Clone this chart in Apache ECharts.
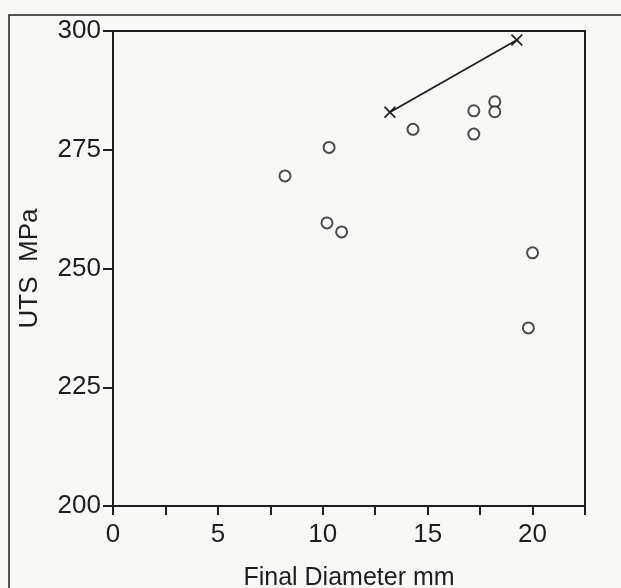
<!DOCTYPE html>
<html>
<head>
<meta charset="utf-8">
<script src="https://cdn.jsdelivr.net/npm/echarts@6/dist/echarts.min.js"></script>
<style>
html, body { margin: 0; padding: 0; background: #f8f8f7; }
#chart1 { width: 621px; height: 588px; }
</style>
</head>
<body>
<div id="chart1"></div>
<script>
var myChart = echarts.init(document.getElementById('chart1'));

// measured points (open circles)
var diameter = [8.2, 10.3, 10.2, 10.9, 14.3, 17.2, 17.2, 18.2, 18.2, 20.0, 19.8];
var uts = [269.5, 275.5, 259.6, 257.7, 279.3, 283.2, 278.3, 285.1, 283.0, 253.3, 237.5];
// line with x markers
var crossDiameter = [13.2, 19.25];
var crossUts = [282.9, 298.1];
var xTicks = [0, 5, 10, 15, 20];
var yTicks = [200, 225, 250, 275, 300];

var ink = '#1e1e1e';
var font = 'Liberation Sans, Arial, sans-serif';

var circlePts = diameter.map(function (d, i) { return [d, uts[i]]; });
var crossPts = crossDiameter.map(function (d, i) { return [d, crossUts[i]]; });

var option = {
	backgroundColor: '#f8f8f7',
	animation: false,
	grid: {
		left: 113, right: 36, top: 31, bottom: 82,
		outerBoundsMode: 'none',
		containLabel: false,
		show: true,
		borderColor: ink,
		borderWidth: 2
	},
	xAxis: {
		type: 'value',
		min: 0, max: 22.5, interval: 2.5,
		name: 'Final Diameter mm',
		nameLocation: 'middle',
		nameGap: 60,
		nameTextStyle: { color: ink, fontSize: 25, fontFamily: font },
		axisLine: { show: true, lineStyle: { color: ink, width: 2 } },
		axisTick: { show: true, length: 9, lineStyle: { color: ink, width: 2 } },
		splitLine: { show: false },
		axisLabel: {
			color: ink, fontSize: 26, fontFamily: font, margin: 16,
			formatter: function (v) { return xTicks.indexOf(v) >= 0 ? String(v) : ''; }
		}
	},
	yAxis: {
		type: 'value',
		min: 200, max: 300, interval: 25,
		name: 'UTS  MPa',
		nameLocation: 'middle',
		nameGap: 70,
		nameRotate: 90,
		nameTextStyle: { color: ink, fontSize: 26, fontFamily: font },
		axisLine: { show: true, lineStyle: { color: ink, width: 2 } },
		axisTick: { show: true, length: 10, lineStyle: { color: ink, width: 2 } },
		splitLine: { show: false },
		axisLabel: {
			color: ink, fontSize: 26, fontFamily: font, margin: 12,
			formatter: function (v) { return yTicks.indexOf(v) >= 0 ? String(v) : ''; }
		}
	},
	graphic: [{
		type: 'rect',
		shape: { x: 9, y: 15, width: 700, height: 700 },
		style: { fill: null, stroke: ink, lineWidth: 1.5 },
		silent: true
	}],
	series: [
		{
			type: 'scatter',
			data: circlePts,
			symbol: 'emptyCircle',
			symbolSize: 11,
			itemStyle: { color: ink, borderColor: ink, borderWidth: 2.6 }
		},
		{
			type: 'line',
			data: crossPts,
			symbol: 'path://M0,1L1,0L5,4L9,0L10,1L6,5L10,9L9,10L5,6L1,10L0,9L4,5Z',
			symbolSize: 12,
			itemStyle: { color: ink },
			lineStyle: { color: ink, width: 1.8 }
		}
	]
};
myChart.setOption(option);
</script>
</body>
</html>
